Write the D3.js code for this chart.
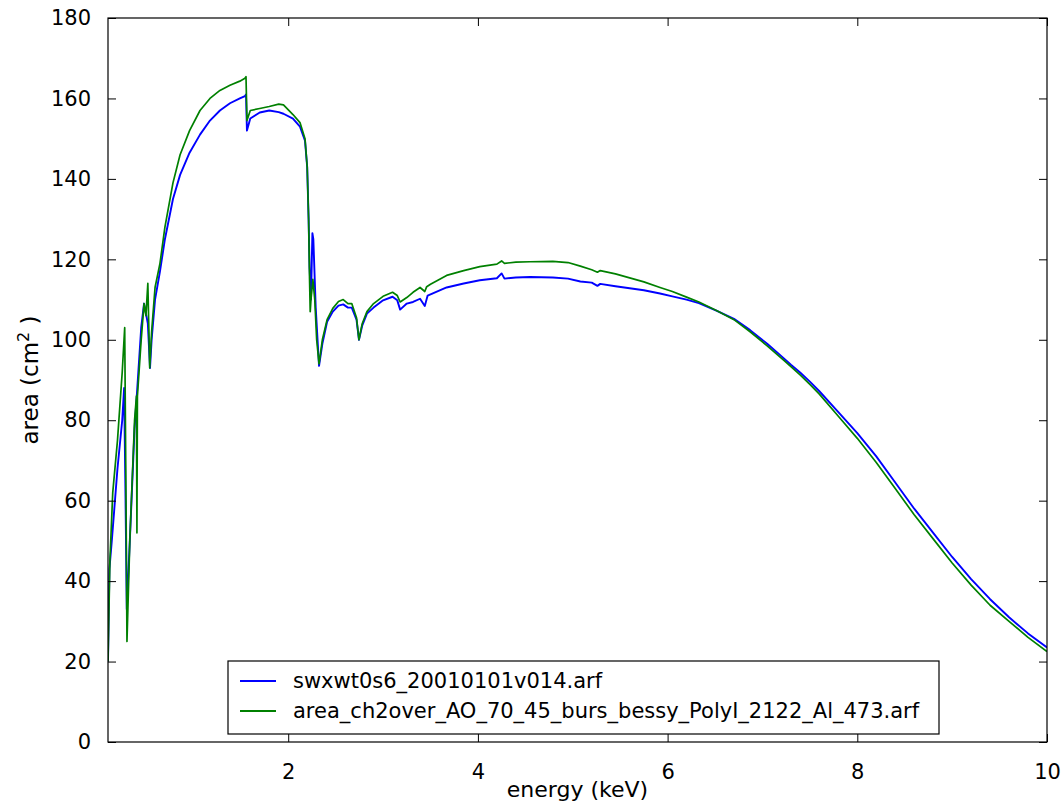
<!DOCTYPE html>
<html><head><meta charset="utf-8">
<script src="https://cdn.jsdelivr.net/npm/d3@7"></script>
<style>
body{margin:0;background:#fff;}
text{font-family:"DejaVu Sans",sans-serif;fill:#000;}
</style></head>
<body><svg id="c" width="1062" height="803"></svg>
<script>
const xTicks=[2,4,6,8,10];
const yTicks=[0,20,40,60,80,100,120,140,160,180];
const seriesNames=["swxwt0s6_20010101v014.arf","area_ch2over_AO_70_45_burs_bessy_PolyI_2122_Al_473.arf"];
const blueE=[0.1,0.115,0.14,0.2,0.25,0.27,0.285,0.298,0.33,0.38,0.406,0.45,0.48,0.52,0.543,0.56,0.596,0.648,0.70,0.785,0.86,0.96,1.07,1.175,1.28,1.386,1.49,1.544,1.555,1.565,1.6,1.7,1.8,1.9,1.95,2.05,2.124,2.177,2.2,2.215,2.225,2.24,2.255,2.265,2.29,2.325,2.36,2.41,2.47,2.53,2.58,2.63,2.67,2.72,2.746,2.78,2.83,2.9,3.0,3.1,3.15,3.18,3.25,3.316,3.39,3.44,3.47,3.67,3.85,4.02,4.2,4.25,4.28,4.4,4.55,4.79,4.95,5.08,5.2,5.26,5.29,5.45,5.6,5.75,5.92,6.05,6.2,6.33,6.52,6.7,6.87,7.05,7.22,7.3,7.4,7.5,7.6,7.8,8.0,8.2,8.4,8.6,8.8,9.0,9.2,9.4,9.6,9.8,10.0];
const blueA=[20,43,50,68,80,88,60,33,50,78,87,103,109,104,93,100,110,117,125,135,141,146.5,151,154.5,157,158.8,160,160.6,161,152,155,156.5,157,156.6,156.2,155,153,149.5,143,130,118,110,126.5,125,108,93.5,99,104.5,107,108.5,108.8,108,108,105,100,103.5,106.5,108,109.8,110.7,109.8,107.5,109,109.4,110.2,108.4,111,113,114,114.8,115.3,116.5,115.2,115.5,115.6,115.5,115.2,114.5,114.2,113.4,113.9,113.3,112.8,112.3,111.5,110.8,110,109.1,107.2,105.2,102.4,99,95.5,93.8,91.8,89.6,87.2,82,76.8,71,64.5,58,52,46,40.5,35.5,31,27,23.5];
const greenE=[0.1,0.12,0.15,0.2,0.25,0.276,0.29,0.30,0.33,0.38,0.40,0.405,0.41,0.45,0.48,0.50,0.52,0.54,0.56,0.596,0.648,0.70,0.785,0.86,0.96,1.07,1.175,1.28,1.386,1.49,1.544,1.555,1.565,1.6,1.7,1.8,1.9,1.95,2.05,2.124,2.177,2.2,2.215,2.225,2.232,2.24,2.26,2.28,2.3,2.325,2.36,2.41,2.47,2.53,2.58,2.63,2.67,2.72,2.746,2.78,2.83,2.9,3.0,3.1,3.15,3.18,3.25,3.316,3.39,3.44,3.46,3.5,3.67,3.85,4.02,4.2,4.25,4.28,4.4,4.55,4.79,4.95,5.08,5.2,5.26,5.29,5.45,5.6,5.75,5.92,6.05,6.2,6.33,6.52,6.7,6.87,7.05,7.22,7.3,7.4,7.5,7.6,7.8,8.0,8.2,8.4,8.6,8.8,9.0,9.2,9.4,9.6,9.8,10.0];
const greenA=[20,45,62,75,92,103,60,25,50,80,86,52,86,100,109,106,114,93,102,113,119,128,139,146,152,157,160,162,163.3,164.3,165,165.4,154.5,157,157.5,158,158.6,158.4,156,154,150,143,130,115,107,110,115,110,100,94,100,105,107.8,109.5,110,109,109,105.5,100,104,107,109,110.8,111.8,111,109.4,110.5,111.8,113,112,113.2,113.8,116,117.2,118.2,118.8,119.6,119,119.3,119.4,119.5,119.2,118.3,117.4,116.8,117.2,116.4,115.4,114.4,113,112,110.6,109.4,107.2,105,102,98.5,95,93.3,91.2,88.9,86.5,81,75.5,69.5,63,56.5,50.5,44.5,39,34,30,26,22.5];
const colors=["#0000ff","#008000"];

const svg=d3.select("#c");
const L=108,R=1047,T=18,B=742;
const x=d3.scaleLinear().domain([0.1,10]).range([L,R]);
const y=d3.scaleLinear().domain([0,180]).range([B,T]);

svg.append("defs").append("clipPath").attr("id","clip").append("rect")
  .attr("x",L).attr("y",T).attr("width",R-L).attr("height",B-T);

const line=d3.line().x(d=>x(d[0])).y(d=>y(d[1]));
const series=[d3.zip(blueE,blueA),d3.zip(greenE,greenA)];
const g=svg.append("g").attr("clip-path","url(#clip)");
series.forEach((s,i)=>{
  g.append("path").datum(s).attr("d",line).attr("fill","none")
   .attr("stroke",colors[i]).attr("stroke-width",i===0?1.9:1.7).attr("stroke-linejoin","round");
});

const tl=8;
const axB=svg.append("g").attr("transform",`translate(0,${B})`)
  .call(d3.axisBottom(x).tickValues(xTicks).tickSize(-tl).tickPadding(22).tickFormat(d3.format("d")));
const axT=svg.append("g").attr("transform",`translate(0,${T})`)
  .call(d3.axisTop(x).tickValues(xTicks).tickSize(-tl).tickFormat(""));
const axL=svg.append("g").attr("transform",`translate(${L},0)`)
  .call(d3.axisLeft(y).tickValues(yTicks).tickSize(-tl).tickPadding(17).tickFormat(d3.format("d")));
const axR=svg.append("g").attr("transform",`translate(${R},0)`)
  .call(d3.axisRight(y).tickValues(yTicks).tickSize(-tl).tickFormat(""));
[axB,axT,axL,axR].forEach(a=>{
  a.select(".domain").remove();
  a.selectAll("line").attr("stroke","#000").attr("stroke-width",1);
  a.selectAll("text").style("font-size","21px").attr("fill","#000");
});
axB.selectAll("text").attr("dy","0.71em");

svg.append("rect").attr("x",L).attr("y",T).attr("width",R-L).attr("height",B-T)
  .attr("fill","none").attr("stroke","#000").attr("stroke-width",1.2);

svg.append("text").attr("x",(L+R)/2).attr("y",797).attr("text-anchor","middle")
  .style("font-size","22px").text("energy (keV)");
const yl=svg.append("text").attr("transform",`translate(38,${(T+B)/2}) rotate(-90)`)
  .attr("text-anchor","middle").style("font-size","23px");
yl.append("tspan").text("area (cm");
yl.append("tspan").attr("dy",-9).style("font-size","16px").text("2");
yl.append("tspan").attr("dy",9).text(" )");

const lg=svg.append("g");
lg.append("rect").attr("x",228).attr("y",661).attr("width",711).attr("height",73)
  .attr("fill","#fff").attr("stroke","#000").attr("stroke-width",1.2);
seriesNames.forEach((n,i)=>{
  const yy=681+i*30;
  lg.append("line").attr("x1",240).attr("x2",276).attr("y1",yy).attr("y2",yy)
    .attr("stroke",colors[i]).attr("stroke-width",1.8);
  lg.append("text").attr("x",293).attr("y",yy).attr("dy","0.35em").style("font-size","21px").text(n);
});
</script></body></html>
